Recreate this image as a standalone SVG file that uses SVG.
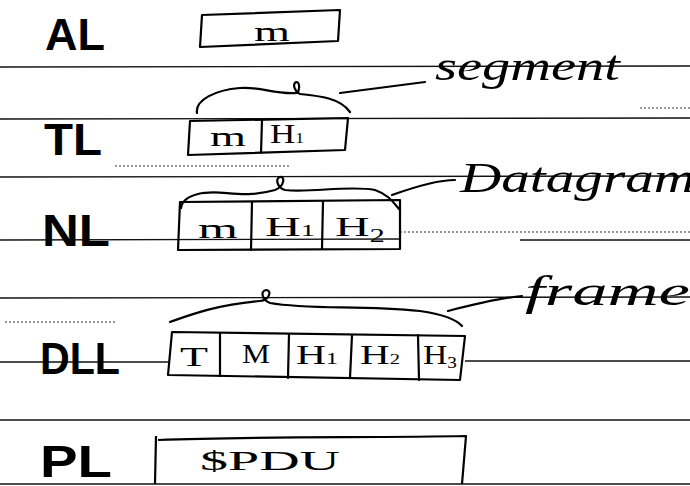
<svg xmlns="http://www.w3.org/2000/svg" width="690" height="486" viewBox="0 0 690 486">
<style>
.rule{stroke:#111;stroke-width:1.4;fill:none}
.dash{stroke:#333;stroke-width:1;stroke-dasharray:2 2;fill:none}
.box{stroke:#000;stroke-width:2.2;fill:none;stroke-linejoin:round}
.ink{stroke:#000;stroke-width:2.2;fill:none;stroke-linecap:round}
.lay{font-family:"Liberation Sans",sans-serif;font-weight:bold;font-size:44px;fill:#000}
.cell{font-family:"Liberation Serif",serif;font-size:28px;fill:#000}
.hand{font-family:"Liberation Serif",serif;font-style:italic;font-size:42px;fill:#000}
</style>
<rect width="690" height="486" fill="#fff"/>
<g id="rules">
<line class="rule" x1="0" y1="67" x2="690" y2="66"/>
<line class="rule" x1="0" y1="119" x2="690" y2="118"/>
<line class="dash" x1="640" y1="108" x2="690" y2="108"/>
<line class="dash" x1="115" y1="166" x2="290" y2="166"/>
<line class="rule" x1="0" y1="177" x2="690" y2="176"/>
<line class="rule" x1="0" y1="240" x2="400" y2="239"/>
<line class="dash" x1="400" y1="232" x2="690" y2="232"/>
<line class="rule" x1="520" y1="240" x2="690" y2="240"/>
<line class="rule" x1="0" y1="298" x2="690" y2="297"/>
<line class="dash" x1="5" y1="322" x2="115" y2="322"/>
<line class="rule" x1="0" y1="362" x2="170" y2="362"/>
<line class="rule" x1="465" y1="361" x2="690" y2="361"/>
<line class="rule" x1="0" y1="420" x2="690" y2="420"/>
<line class="rule" x1="0" y1="484" x2="690" y2="484"/>
</g>
<g id="al">
<text class="lay" x="45" y="50" textLength="60" lengthAdjust="spacingAndGlyphs">AL</text>
<path class="box" d="M202,15 L340,10 L338,41 L200,47 Z"/>
<text class="cell" x="254" y="41" textLength="36" lengthAdjust="spacingAndGlyphs">m</text>
</g>
<g id="tl">
<text class="lay" x="44" y="155" textLength="58" lengthAdjust="spacingAndGlyphs">TL</text>
<path class="box" d="M190,121 L348,118 L345,150 L188,155 Z"/>
<line class="ink" x1="262" y1="120" x2="261" y2="153"/>
<text class="cell" x="210" y="146" textLength="36" lengthAdjust="spacingAndGlyphs">m</text>
<text class="cell" x="270" y="143" font-size="22" textLength="34" lengthAdjust="spacingAndGlyphs">H<tspan font-size="14">1</tspan></text>
<path class="ink" d="M197,113 C195,100 215,90 240,88 C260,86 275,95 297,93 C300,90 300,82 296,82 C292,84 295,92 300,94 C320,96 340,98 350,112"/>
<text class="hand" x="435" y="80" textLength="185" lengthAdjust="spacingAndGlyphs">segment</text>
</g>
<g id="nl">
<text class="lay" x="42" y="246" textLength="68" lengthAdjust="spacingAndGlyphs">NL</text>
<path class="box" d="M180,202 L400,200 L400,249 L178,250 Z"/>
<line class="ink" x1="252" y1="202" x2="251" y2="250"/>
<line class="ink" x1="323" y1="201" x2="322" y2="249"/>
<text class="cell" x="198" y="238" textLength="40" lengthAdjust="spacingAndGlyphs">m</text>
<text class="cell" x="265" y="236" font-size="24" textLength="50" lengthAdjust="spacingAndGlyphs">H<tspan font-size="16">1</tspan></text>
<text class="cell" x="335" y="236" font-size="24" textLength="50" lengthAdjust="spacingAndGlyphs">H<tspan font-size="18" dy="6">2</tspan></text>
<path class="ink" d="M181,208 C182,200 190,196 198,194 C220,188 240,200 275,190 C285,186 285,176 280,177 C275,178 277,188 285,190 C310,193 350,185 375,190 C390,195 395,205 400,210"/>
<text class="hand" x="460" y="192" textLength="235" lengthAdjust="spacingAndGlyphs">Datagram</text>
</g>
<g id="dll">
<text class="lay" x="40" y="374" textLength="80" lengthAdjust="spacingAndGlyphs">DLL</text>
<path class="box" d="M172,332 L465,336 L460,380 L168,375 Z"/>
<line class="ink" x1="220" y1="333" x2="220" y2="376"/>
<line class="ink" x1="289" y1="334" x2="288" y2="378"/>
<line class="ink" x1="352" y1="335" x2="350" y2="378"/>
<line class="ink" x1="418" y1="335" x2="419" y2="380"/>
<text class="cell" x="180" y="366" textLength="28" lengthAdjust="spacingAndGlyphs">T</text>
<text class="cell" x="242" y="363" font-size="24" textLength="28" lengthAdjust="spacingAndGlyphs">M</text>
<text class="cell" x="296" y="364" font-size="22" textLength="42" lengthAdjust="spacingAndGlyphs">H<tspan font-size="16">1</tspan></text>
<text class="cell" x="360" y="364" font-size="22" textLength="40" lengthAdjust="spacingAndGlyphs">H<tspan font-size="14">2</tspan></text>
<text class="cell" x="423" y="364" font-size="22" textLength="34" lengthAdjust="spacingAndGlyphs">H<tspan font-size="16" dy="4">3</tspan></text>
<path class="ink" d="M170,322 C190,315 215,305 260,301 C270,300 272,290 266,290 C260,291 262,300 270,303 C310,310 360,305 420,311 C440,314 455,318 462,326"/>
<text class="hand" x="525" y="305" textLength="165" lengthAdjust="spacingAndGlyphs">frame</text>
</g>
<g id="pl">
<text class="lay" x="40" y="477" font-size="42" textLength="72" lengthAdjust="spacingAndGlyphs">PL</text>
<path class="box" d="M158,440 C260,436 370,438 466,436 L462,484 M156,436 L155,484"/>
<text class="cell" x="200" y="470" font-size="30" textLength="140" lengthAdjust="spacingAndGlyphs">$PDU</text>
</g>
<g id="connectors">
<path class="ink" d="M340,93 L425,82"/>
<path class="ink" d="M392,195 C420,185 440,180 455,180"/>
<path class="ink" d="M448,311 C475,304 500,298 522,296"/>
</g>
</svg>
